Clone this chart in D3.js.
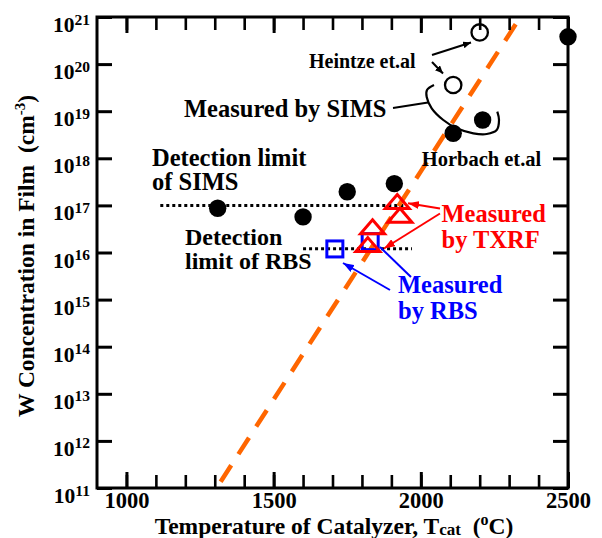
<!DOCTYPE html>
<html>
<head>
<meta charset="utf-8">
<script src="https://cdn.jsdelivr.net/npm/d3@7"></script>
<style>
  html, body { margin: 0; padding: 0; background: #fff; }
  svg { display: block; }
  svg text { font-family: "Liberation Serif", "Times New Roman", serif; font-weight: bold; }
</style>
</head>
<body>
<svg id="chart" width="602" height="538"></svg>
<script>
// SIMS results (this work and Horbach et al.)
const simsTemp = [1310, 1600, 1750, 1910, 2110, 2210, 2500];
const simsConc = [8.7e16, 5.7e16, 1.95e17, 2.9e17, 3.4e18, 6.5e18, 3.8e20];
// Heintze et al.
const heintzeTemp = [2200, 2110];
const heintzeConc = [4.7e20, 3.6e19];
// TXRF results
const txrfTemp = [1920, 1929, 1836, 1820];
const txrfConc = [1.23e17, 6.3e16, 3.6e16, 1.5e16];
// RBS results
const rbsTemp = [1708, 1828];
const rbsConc = [1.19e16, 1.7e16];
// Arrhenius-type trend line
const trendTemp = [1320, 2323];
const trendConc = [1.36e11, 7.1e20];
// Detection limits
const simsLimitTemp = [1115, 1950];
const simsLimitConc = 1e17;
const rbsLimitTemp = [1600, 1970];
const rbsLimitConc = 1.2e16;
// Axis ticks
const xMajorTicks = [1000, 1500, 2000, 2500];
const xMinorTicks = [1000, 1100, 1200, 1300, 1400, 1500, 1600, 1700, 1800, 1900, 2000, 2100, 2200, 2300, 2400];
const yExponents = [11, 12, 13, 14, 15, 16, 17, 18, 19, 20, 21];

const svg = d3.select("#chart");
const plotLeft = 97, plotRight = 568, plotTop = 17, plotBottom = 488;

const x = d3.scaleLinear().domain([900, 2500]).range([plotLeft, plotRight]);
const y = d3.scaleLog().domain([1e11, 1e21]).range([plotBottom, plotTop]);

const defs = svg.append("defs");
function arrowMarker(id, color, len, wid) {
  defs.append("marker")
    .attr("id", id)
    .attr("viewBox", `0 0 ${len} ${wid}`)
    .attr("refX", len).attr("refY", wid / 2)
    .attr("markerWidth", len).attr("markerHeight", wid)
    .attr("markerUnits", "userSpaceOnUse")
    .attr("orient", "auto")
    .append("path")
    .attr("d", `M0,0L${len},${wid / 2}L0,${wid}Z`)
    .attr("fill", color);
}
arrowMarker("arrBlack", "#000", 8, 7);
arrowMarker("arrRed", "#ff0000", 11, 8);
arrowMarker("arrBlue", "#0000ff", 11, 8);

// Detection limits (dotted)
const limits = svg.append("g").attr("stroke", "#000").attr("stroke-width", 3).attr("stroke-dasharray", "3,3");
limits.append("line")
  .attr("x1", x(simsLimitTemp[0])).attr("x2", x(simsLimitTemp[1]))
  .attr("y1", y(simsLimitConc)).attr("y2", y(simsLimitConc));
limits.append("line")
  .attr("x1", x(rbsLimitTemp[0])).attr("x2", x(rbsLimitTemp[1]))
  .attr("y1", y(rbsLimitConc)).attr("y2", y(rbsLimitConc));

// Trend line
svg.append("path")
  .datum(trendTemp.map((t, i) => [t, trendConc[i]]))
  .attr("d", d3.line().x(d => x(d[0])).y(d => y(d[1])))
  .attr("fill", "none")
  .attr("stroke", "#ff6600")
  .attr("stroke-width", 4.5)
  .attr("stroke-dasharray", "19.5,13.3");

// SIMS points
svg.append("g").selectAll("circle")
  .data(simsTemp.map((t, i) => [t, simsConc[i]]))
  .join("circle")
  .attr("cx", d => x(d[0])).attr("cy", d => y(d[1]))
  .attr("r", 8.7).attr("fill", "#000");

// Heintze points
svg.append("g").selectAll("circle")
  .data(heintzeTemp.map((t, i) => [t, heintzeConc[i]]))
  .join("circle")
  .attr("cx", d => x(d[0])).attr("cy", d => y(d[1]))
  .attr("r", 8.2).attr("fill", "#fff").attr("stroke", "#000").attr("stroke-width", 2.3);

// RBS points
svg.append("g").selectAll("rect")
  .data(rbsTemp.map((t, i) => [t, rbsConc[i]]))
  .join("rect")
  .attr("x", d => x(d[0]) - 8).attr("y", d => y(d[1]) - 8)
  .attr("width", 16).attr("height", 16)
  .attr("fill", "none").attr("stroke", "#0000ff").attr("stroke-width", 3);

// TXRF points
svg.append("g").selectAll("path")
  .data(txrfTemp.map((t, i) => [t, txrfConc[i]]))
  .join("path")
  .attr("transform", d => `translate(${x(d[0])},${y(d[1])})`)
  .attr("d", "M0,-6.6L12,7.4L-12,7.4Z")
  .attr("fill", "none").attr("stroke", "#ff0000").attr("stroke-width", 3)
  .attr("stroke-linejoin", "miter");

// Annotations
function arrow(x1, y1, x2, y2, color, marker, w) {
  svg.append("line")
    .attr("x1", x1).attr("y1", y1).attr("x2", x2).attr("y2", y2)
    .attr("stroke", color).attr("stroke-width", w)
    .attr("marker-end", `url(#${marker})`);
}
arrow(432, 55, 471, 42.5, "#000", "arrBlack", 2);
arrow(432, 62, 443, 73.5, "#000", "arrBlack", 2);
arrow(440, 208.5, 408, 203.3, "#ff0000", "arrRed", 2);
arrow(440, 213.5, 384, 248.5, "#ff0000", "arrRed", 2);
arrow(390, 290, 343, 263, "#0000ff", "arrBlue", 2);
svg.append("line").attr("x1", 411).attr("y1", 277).attr("x2", 380).attr("y2", 247)
  .attr("stroke", "#0000ff").attr("stroke-width", 2);

// Bracket around the Horbach points
svg.append("line").attr("x1", 393).attr("y1", 108).attr("x2", 428).attr("y2", 102.5)
  .attr("stroke", "#000").attr("stroke-width", 2);
svg.append("path")
  .datum([[434, 85], [427, 90], [426.7, 97], [431.7, 108.3], [443.3, 120], [456.7, 128.3],
          [473.3, 133.3], [486.7, 134], [496.7, 130], [499, 120], [497.3, 111.7]])
  .attr("d", d3.line().curve(d3.curveCatmullRom))
  .attr("fill", "none").attr("stroke", "#000").attr("stroke-width", 2.2);

function label(lines, x0, y0, size, color, lh) {
  const t = svg.append("text").attr("x", x0).attr("y", y0)
    .attr("font-size", size).attr("fill", color);
  lines.forEach((s, i) => t.append("tspan").attr("x", x0).attr("y", y0 + i * lh).text(s));
}
label(["Heintze et.al"], 309, 68, 20, "#000", 0);
label(["Measured by SIMS"], 184, 116.7, 24.5, "#000", 0);
label(["Horbach et.al"], 421.7, 166, 20.5, "#000", 0);
label(["Detection limit", "of SIMS"], 152, 165.7, 24.5, "#000", 24.3);
label(["Detection", "limit of RBS"], 185, 244.5, 24, "#000", 24.3);
label(["Measured", "by TXRF"], 441.5, 221.7, 24.5, "#ff0000", 26.6);
label(["Measured", "by RBS"], 398, 293.3, 24.5, "#0000ff", 26);

// Axes
const xAxis = svg.append("g").attr("transform", `translate(0,${plotBottom})`)
  .call(d3.axisBottom(x).tickValues(xMajorTicks).tickSize(-16).tickPadding(4).tickFormat(d3.format("d")));
const xAxisTop = svg.append("g").attr("transform", `translate(0,${plotTop})`)
  .call(d3.axisTop(x).tickValues(xMajorTicks).tickSize(-16).tickFormat(""));
const xMinB = svg.append("g").attr("transform", `translate(0,${plotBottom})`)
  .call(d3.axisBottom(x).tickValues(xMinorTicks).tickSize(-13).tickFormat(""));
const xMinT = svg.append("g").attr("transform", `translate(0,${plotTop})`)
  .call(d3.axisTop(x).tickValues(xMinorTicks).tickSize(-13).tickFormat(""));
const yVals = yExponents.map(e => Math.pow(10, e));
const yAxis = svg.append("g").attr("transform", `translate(${plotLeft},0)`)
  .call(d3.axisLeft(y).tickValues(yVals).tickSize(-15).tickPadding(7));
const yAxisR = svg.append("g").attr("transform", `translate(${plotRight},0)`)
  .call(d3.axisRight(y).tickValues(yVals).tickSize(-15).tickFormat(""));

[xAxis, xAxisTop, xMinB, xMinT, yAxis, yAxisR].forEach(g => {
  g.attr("font-family", null).attr("font-size", null);
  g.select(".domain").remove();
  g.selectAll(".tick line").attr("stroke", "#000").attr("stroke-width", 3);
});
[xMinB, xMinT].forEach(g => g.selectAll(".tick line").attr("stroke-width", 2.6));

xAxis.selectAll(".tick text").attr("font-size", 22.5).attr("fill", "#000");

yAxis.selectAll(".tick text").each(function (d) {
  const t = d3.select(this);
  t.text(null).attr("dy", 14.5).attr("font-size", 21.5).attr("fill", "#000");
  t.append("tspan").text("10");
  t.append("tspan").attr("font-size", 15.5).attr("dy", -7.5).text(Math.round(Math.log10(d)));
});

// Plot frame
svg.append("rect")
  .attr("x", plotLeft).attr("y", plotTop).attr("width", plotRight - plotLeft).attr("height", plotBottom - plotTop)
  .attr("fill", "none").attr("stroke", "#000").attr("stroke-width", 3);

// Axis titles
const xt = svg.append("text").attr("x", 334).attr("y", 534)
  .attr("text-anchor", "middle").attr("font-size", 23.5).attr("fill", "#000");
xt.append("tspan").text("Temperature of Catalyzer, T");
xt.append("tspan").attr("font-size", 17).attr("dy", 1).text("cat");
xt.append("tspan").attr("dy", -1).text("\u00a0\u00a0(");
xt.append("tspan").attr("font-size", 16).attr("dy", -9).text("o");
xt.append("tspan").attr("dy", 9).text("C)");

const yt = svg.append("text").attr("transform", "translate(34,256) rotate(-90)")
  .attr("text-anchor", "middle").attr("font-size", 23.5).attr("fill", "#000");
yt.append("tspan").text("W Concentration in Film\u00a0 (cm");
yt.append("tspan").attr("font-size", 15).attr("dy", -9).text("-3");
yt.append("tspan").attr("dy", 9).text(")");
</script>
</body>
</html>
